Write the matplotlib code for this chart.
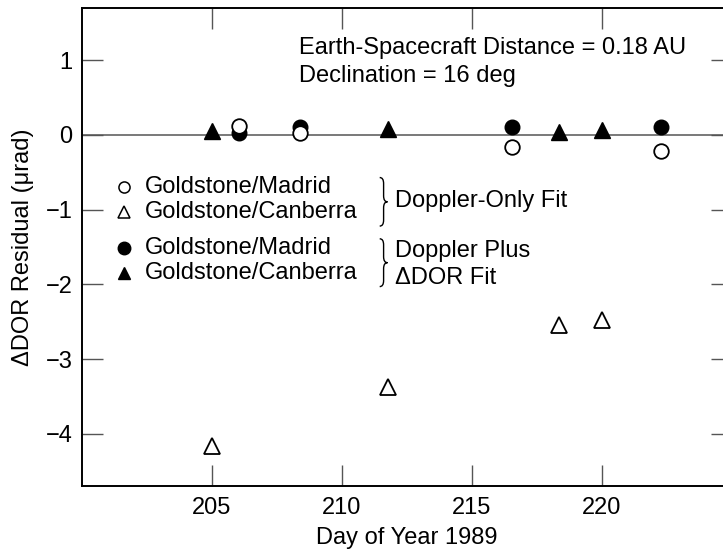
import matplotlib.pyplot as plt
from matplotlib.path import Path
from matplotlib.patches import PathPatch

plt.rcParams['font.family'] = ['Liberation Sans', 'DejaVu Sans']

# Doppler-only fit residuals
madrid_days_dop = [206.04, 208.38, 216.53, 222.27]
madrid_res_dop = [0.12, 0.02, -0.16, -0.21]
canberra_days_dop = [205.0, 211.77, 218.33, 220.0]
canberra_res_dop = [-4.17, -3.37, -2.55, -2.48]

# Doppler plus DDOR fit residuals
madrid_days_ddor = [206.04, 208.38, 216.53, 222.27]
madrid_res_ddor = [0.03, 0.11, 0.11, 0.11]
canberra_days_ddor = [205.0, 211.77, 218.33, 220.0]
canberra_res_ddor = [0.05, 0.08, 0.04, 0.06]

x_ticks = [205, 210, 215, 220]
y_ticks = [-4, -3, -2, -1, 0, 1]

FS = 17


def brace(ax, x, y_top, y_bot, w=0.3):
    """Draw a thin right-pointing curly brace in data coords."""
    ym = (y_top + y_bot) / 2
    xm = x + w / 2
    d = 0.08
    verts = [(x, y_top), (xm, y_top), (xm, y_top - d), (xm, y_top - d),
             (xm, ym + d), (xm, ym), (x + w, ym),
             (xm, ym), (xm, ym - d), (xm, ym - d),
             (xm, y_bot + d), (xm, y_bot), (x, y_bot)]
    codes = [Path.MOVETO, Path.CURVE3, Path.CURVE3, Path.LINETO,
             Path.LINETO, Path.CURVE3, Path.CURVE3,
             Path.CURVE3, Path.CURVE3, Path.LINETO,
             Path.LINETO, Path.CURVE3, Path.CURVE3]
    ax.add_patch(PathPatch(Path(verts, codes), fill=False, lw=1.0, color='black'))


fig = plt.figure(figsize=(7.23, 5.52), dpi=100)
ax = fig.add_axes([82 / 723, 1 - 486 / 552, (732 - 82) / 723, (486 - 8) / 552])

ax.axhline(0, color='#555555', lw=1.1, zorder=1)

ax.plot(canberra_days_dop, canberra_res_dop, '^', ms=11, mfc='white', mec='black', mew=1.3, zorder=3)
ax.plot(madrid_days_ddor, madrid_res_ddor, 'o', ms=10.5, color='black', zorder=3)
ax.plot(madrid_days_dop, madrid_res_dop, 'o', ms=10.5, mfc='white', mec='black', mew=1.3, zorder=4)
ax.plot(canberra_days_ddor, canberra_res_ddor, '^', ms=11, color='black', zorder=4)

ax.set_xlim(200, 225)
ax.set_ylim(-4.7, 1.7)
ax.set_xticks(x_ticks)
ax.set_yticks(y_ticks)
ax.tick_params(direction='in', length=15, width=1.0, color='#555555',
               top=True, right=True, labelsize=FS)
ax.tick_params(axis='x', pad=8)
ax.tick_params(axis='y', pad=7)
for s in ax.spines.values():
    s.set_linewidth(1.4)

ax.set_xlabel('Day of Year 1989', fontsize=FS, labelpad=6)
ax.set_ylabel('\u0394DOR Residual (\u03bcrad)', fontsize=FS, labelpad=8)

ax.text(208.35, 1.164, 'Earth-Spacecraft Distance = 0.18 AU', fontsize=FS, va='center')
ax.text(208.35, 0.787, 'Declination = 16 deg', fontsize=FS, va='center')

# hand-made legend
leg_y = [-0.69, -1.03, -1.52, -1.85]
leg_styles = [dict(marker='o', ms=8, mfc='white', mec='black', mew=1.1),
              dict(marker='^', ms=9, mfc='white', mec='black', mew=1.1),
              dict(marker='o', ms=9, color='black'),
              dict(marker='^', ms=9, color='black')]
leg_names = ['Goldstone/Madrid', 'Goldstone/Canberra', 'Goldstone/Madrid', 'Goldstone/Canberra']
for y, st, name in zip(leg_y, leg_styles, leg_names):
    ax.plot([201.62], [y], linestyle='none', **st)
    ax.text(202.42, y, name, fontsize=FS, va='center')

brace(ax, 211.45, -0.57, -1.22)
brace(ax, 211.45, -1.39, -2.03)
ax.text(212.04, -0.89, 'Doppler-Only Fit', fontsize=FS, va='center')
ax.text(212.04, -1.55, 'Doppler Plus', fontsize=FS, va='center')
ax.text(212.04, -1.91, '\u0394DOR Fit', fontsize=FS, va='center')

fig.savefig('out.png', dpi=100)
